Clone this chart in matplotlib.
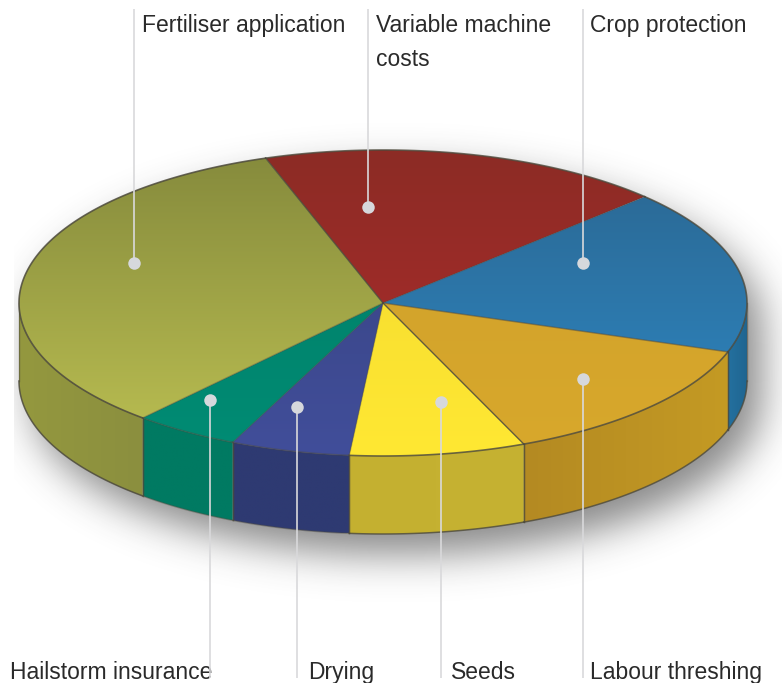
import matplotlib
matplotlib.use('Agg')
import matplotlib.pyplot as plt
import numpy as np
from matplotlib.colors import to_rgb
from matplotlib.patches import Polygon

# shares in percent, clockwise from the top
categories = ['Variable machine\ncosts', 'Crop protection', 'Labour threshing', 'Seeds',
              'Drying', 'Hailstorm insurance', 'Fertiliser application']
shares = [18.0, 17.4, 13.5, 7.8, 5.3, 4.7, 33.3]

top_dark = ['#8c2b25', '#2b6690', '#cfa02a', '#f2d82e', '#37427f', '#007c66', '#858a3c']
top_light = ['#b02c2c', '#2e88c4', '#d8a82c', '#ffe833', '#414e9a', '#008c74', '#bcc052']
side_left = ['#8c2b25', '#24709f', '#b48a22', '#c4b030', '#2e3a72', '#007a62', '#94983f']
side_right = ['#8c2b25', '#1f6590', '#c49a24', '#c6b232', '#2e3a72', '#007a62', '#8b8f3e']

# how strong the dark line is at the start of each slice and along its rim
divider_alpha = [0.8, 0.3, 0.5, 0.85, 0.35, 0.3, 0.35]
rim_alpha = [0.8, 0.8, 0.8, 0.8, 0.4, 0.4, 0.85]

# layout, in pixels of the 782x683 picture
W, H = 782, 683
CX, CY, RX, RY, DEPTH = 383, 303, 364, 153, 78
START_ANGLE = 108.8
EDGE = '#4d4a3c'
LEADER = '#d9d9db'

dot_x = [368, 583, 583, 441, 297, 210, 134]
dot_y = [207, 263, 379, 402, 407, 400, 263]
label_x = [376, 590, 590, 451, 308, 10, 142]
label_y = [32, 32, 679, 679, 679, 679, 32]


def rim(t):
    t = np.radians(t)
    return CX + RX * np.cos(t), CY - RY * np.sin(t)


def arc(a0, a1, n=120):
    return np.array(rim(np.linspace(a0, a1, n))).T


def blur(a, sigma):
    r = int(sigma * 3)
    k = np.exp(-0.5 * (np.arange(-r, r + 1) / sigma) ** 2)
    k /= k.sum()
    a = np.apply_along_axis(lambda v: np.convolve(v, k, mode='same'), 0, a)
    return np.apply_along_axis(lambda v: np.convolve(v, k, mode='same'), 1, a)


fig = plt.figure(figsize=(W / 100, H / 100), dpi=100)
ax = fig.add_axes([0, 0, 1, 1])

# soft shadow below the disc, cut off by a box like the original
yy, xx = np.mgrid[0:H, 0:W]
sx, sy = (xx - CX - 14) / RX, (yy - CY - 20) / RY
body = (sx ** 2 + sy ** 2 <= 1) | ((sx ** 2 + ((yy - CY - 20 - DEPTH) / RY) ** 2 <= 1))
body |= (np.abs(sx) <= 1) & (yy >= CY + 20) & (yy <= CY + 20 + DEPTH)
shade = blur(body.astype(float), 20) * 0.6
shade[:, :14] = 0
shade[:95, :] = 0
rgba = np.zeros((H, W, 4))
rgba[..., :3] = 0.22
rgba[..., 3] = shade
ax.imshow(rgba, extent=(0, W, H, 0), zorder=1, interpolation='bilinear')

ends = START_ANGLE - np.cumsum(shares) / np.sum(shares) * 360
starts = np.r_[START_ANGLE, ends[:-1]]

for i in range(len(shares)):
    a0, a1 = starts[i], ends[i]

    # side wall: only the part of the rim on the front half
    s0, s1 = min(a0, 0), max(a1, -180)
    if s0 > s1:
        edge = arc(s0, s1)
        pts = np.vstack([edge, (edge + [0, DEPTH])[::-1]])
        wall = Polygon(pts, closed=True, facecolor='none', edgecolor='none', zorder=2)
        ax.add_patch(wall)
        x0, x1 = pts[:, 0].min(), pts[:, 0].max()
        c0, c1 = np.array(to_rgb(side_left[i])), np.array(to_rgb(side_right[i]))
        grad = np.linspace(c0, c1, 64)[None, :, :]
        im = ax.imshow(grad, extent=(x0, x1, pts[:, 1].max(), pts[:, 1].min()),
                       aspect='auto', zorder=2, interpolation='bilinear')
        im.set_clip_path(wall)
        ax.plot(edge[:, 0], edge[:, 1] + DEPTH, color=EDGE, lw=1.1, alpha=rim_alpha[i], zorder=3)
        for e in (edge[0], edge[-1]):
            ax.plot([e[0], e[0]], [e[1], e[1] + DEPTH], color=EDGE, lw=1.0,
                    alpha=0.55, zorder=3)

    # top face, dark at the back and lighter at the front
    pts = np.vstack([[CX, CY], arc(a0, a1)])
    face = Polygon(pts, closed=True, facecolor='none', edgecolor='none', zorder=4)
    ax.add_patch(face)
    c0, c1 = np.array(to_rgb(top_dark[i])), np.array(to_rgb(top_light[i]))
    grad = np.linspace(c0, c1, 128)[:, None, :]
    im = ax.imshow(grad, extent=(CX - RX, CX + RX, CY + RY, CY - RY),
                   aspect='auto', zorder=4, interpolation='bilinear')
    im.set_clip_path(face)

for i in range(len(shares)):
    ax.plot(*arc(starts[i], ends[i]).T, color=EDGE, lw=1.2, alpha=rim_alpha[i], zorder=5)
    x, y = rim(starts[i])
    ax.plot([CX, x], [CY, y], color=EDGE, lw=1.0, alpha=divider_alpha[i], zorder=5)

# labels, then leaders and dots over them
for i, name in enumerate(categories):
    end = 9 if label_y[i] < CY else 678
    ax.text(label_x[i], label_y[i], name.split('\n')[0], family='Liberation Sans',
            fontsize=16.5, color='#2a2a2a', va='baseline', ha='left', zorder=6)
    if '\n' in name:
        ax.text(label_x[i], label_y[i] + 34, name.split('\n')[1], family='Liberation Sans',
                fontsize=16.5, color='#2a2a2a', va='baseline', ha='left', zorder=6)
    ax.plot([dot_x[i], dot_x[i]], [dot_y[i], end], color=LEADER, lw=1.2, zorder=7,
            solid_capstyle='butt')
    ax.plot(dot_x[i], dot_y[i], 'o', ms=9, color='#d6d8dc', mec='none', zorder=8)

ax.set_xlim(0, W)
ax.set_ylim(H, 0)
ax.axis('off')
fig.savefig('out.png', dpi=100)
